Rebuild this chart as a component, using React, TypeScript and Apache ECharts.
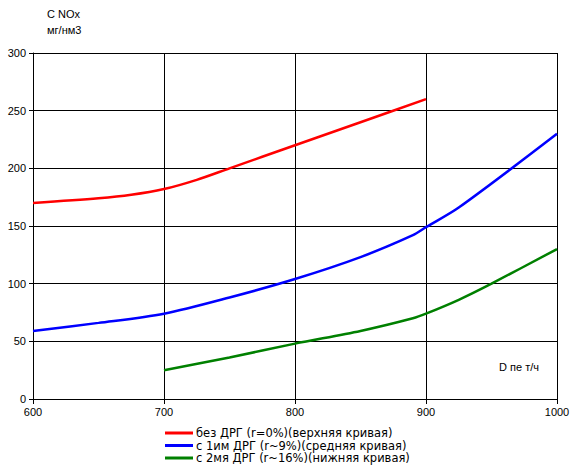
import React, { useEffect, useRef } from "react";
import * as echarts from "echarts";

const seriesNames = [
  "без ДРГ (r=0%)(верхняя кривая)",
  "с 1им ДРГ (r~9%)(средняя кривая)",
  "с 2мя ДРГ (r~16%)(нижняя кривая)",
];
const seriesColors = ["#ff0000", "#0000ff", "#008000"];

const redX = [600, 650, 675, 700, 725, 750, 800, 850, 900];
const redY = [170, 174, 177, 182, 190, 200, 220, 240, 260];
const blueX = [600, 650, 700, 750, 800, 850, 890, 900, 925, 1000];
const blueY = [59, 66, 74, 88, 104, 123, 142, 149, 166, 230];
const greenX = [700, 750, 800, 850, 890, 900, 925, 950, 1000];
const greenY = [25, 36, 48, 59, 70, 74, 86, 100, 130];

const yTitle1 = "C NOx";
const yTitle2 = "мг/нм3";
const xTitle = "D пе т/ч";

const zip = (xs: number[], ys: number[]) => xs.map((x, i) => [x, ys[i]]);

export default function App() {
  const ref = useRef<HTMLDivElement>(null);
  useEffect(() => {
    const chart = echarts.init(ref.current!, null, { renderer: "svg" });
    const font = "'Liberation Sans', Arial, sans-serif";
    const legendFont = "'DejaVu Sans', sans-serif";
    const datasets = [zip(redX, redY), zip(blueX, blueY), zip(greenX, greenY)];
    chart.setOption({
      animation: false,
      backgroundColor: "#ffffff",
      grid: { left: 33, right: 19, top: 53, bottom: 68, containLabel: false },
      xAxis: {
        type: "value",
        min: 600,
        max: 1000,
        interval: 100,
        axisLine: { show: true, lineStyle: { color: "#000", width: 1 } },
        axisTick: { show: true, length: 5, lineStyle: { color: "#000" } },
        axisLabel: {
          color: "#000",
          fontSize: 11,
          fontFamily: font,
          margin: 7,
          formatter: (v: number) => String(v),
        },
        splitLine: { show: true, lineStyle: { color: "#000", width: 1 } },
      },
      yAxis: {
        type: "value",
        min: 0,
        max: 300,
        interval: 50,
        axisLine: { show: true, lineStyle: { color: "#000", width: 1 } },
        axisTick: { show: true, length: 4, lineStyle: { color: "#000" } },
        axisLabel: { color: "#000", fontSize: 11, fontFamily: font, margin: 7 },
        splitLine: { show: true, lineStyle: { color: "#000", width: 1 } },
      },
      legend: {
        orient: "vertical",
        left: 165,
        top: 427,
        itemWidth: 28,
        itemHeight: 3,
        itemGap: 0.5,
        icon: "rect",
        padding: 0,
        textStyle: {
          color: "#000",
          fontSize: 11.5,
          fontFamily: legendFont,
          lineHeight: 12,
          padding: [0, 0, 0, -2],
        },
        data: seriesNames,
      },
      graphic: [
        { type: "text", left: 47, top: 8, style: { text: yTitle1, fontSize: 11, fontFamily: font, fill: "#000" } },
        { type: "text", left: 47, top: 24, style: { text: yTitle2, fontSize: 11, fontFamily: font, fill: "#000" } },
        { type: "text", left: 499, top: 361, style: { text: xTitle, fontSize: 11, fontFamily: font, fill: "#000" } },
      ],
      series: seriesNames.map((name, i) => ({
        name,
        type: "line",
        data: datasets[i],
        smooth: 0.3,
        showSymbol: false,
        symbol: "none",
        lineStyle: { color: seriesColors[i], width: 2.5 },
        itemStyle: { color: seriesColors[i] },
      })),
    });
    return () => chart.dispose();
  }, []);
  return (
    <div
      ref={ref}
      style={{ position: "absolute", left: 0, top: 0, width: 576, height: 467 }}
    />
  );
}
